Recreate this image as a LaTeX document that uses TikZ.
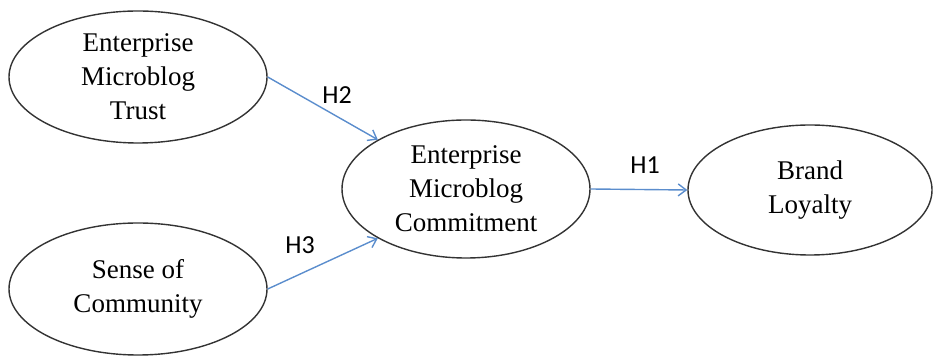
\documentclass[tikz,border=0pt]{standalone}
\usepackage{fontspec}
\setmainfont{Liberation Serif}
\newfontfamily\hfont{Carlito}
\usetikzlibrary{shapes.geometric,arrows.meta}
\definecolor{linkblue}{RGB}{91,141,205}

\begin{document}
\begin{tikzpicture}[x=1pt, y=1pt,
		construct/.style={draw=black!80, ellipse, line width=1.4pt, align=center, font=\fontsize{27}{34}\selectfont},
		link/.style={-{Straight Barb[length=8pt, width=12pt]}, draw=linkblue, line width=1.4pt},
		hyp/.style={font=\hfont\fontsize{26}{28}\selectfont}]
			%%%%% START %%%%%
			
			\useasboundingbox (0, 0) rectangle (937, 358);
			
			\node[construct, minimum width=258, minimum height=132] (trust) at (138, 281) {Enterprise\\Microblog\\Trust};
			\node[construct, minimum width=258, minimum height=132] (community) at (138, 69) {Sense of\\Community};
			\node[construct, minimum width=248, minimum height=138] (commitment) at (466, 169) {Enterprise\\Microblog\\Commitment};
			\node[construct, minimum width=244, minimum height=130] (loyalty) at (810, 168) {Brand\\Loyalty};
			
			\draw[link] (trust.east) -- (commitment.north west);
			\draw[link] (community.east) -- (commitment.south west);
			\draw[link] (commitment.east) -- (loyalty.west);
			
			\node[hyp] (h2) at (337, 263) {H2};
			\node[hyp] (h3) at (300, 113) {H3};
			\node[hyp] (h1) at (645, 193) {H1};
			
			%%%%% END %%%%%
\end{tikzpicture}
\end{document}
